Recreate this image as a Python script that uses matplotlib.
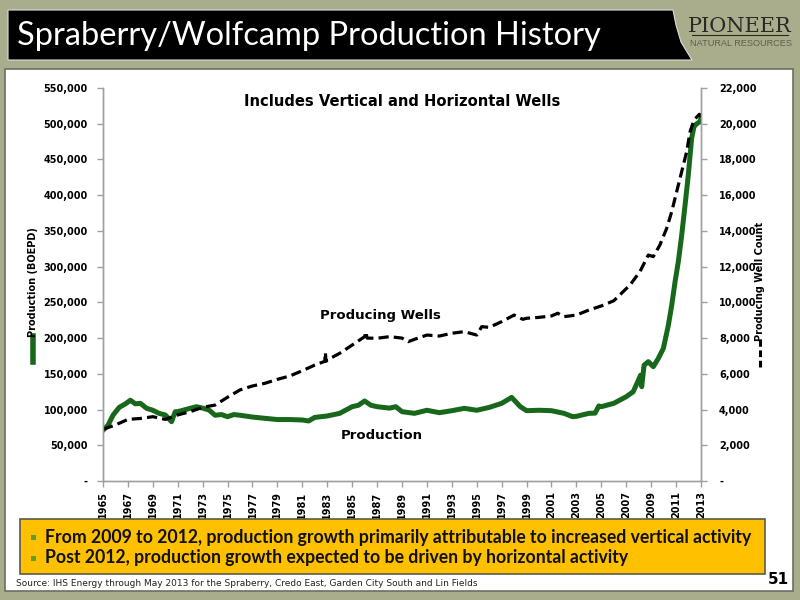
import matplotlib
matplotlib.use("Agg")
import matplotlib.pyplot as plt
from matplotlib.patches import Rectangle, Polygon
from matplotlib.lines import Line2D
from matplotlib.ticker import FuncFormatter

# ---------------- data ----------------
prod_years = [1965, 1965.4, 1965.8, 1966.3, 1966.8, 1967.2, 1967.6, 1968, 1968.5, 1969,
              1969.5, 1970, 1970.5, 1970.8, 1971, 1971.5, 1972, 1972.5, 1973, 1973.5,
              1974, 1974.5, 1975, 1975.5, 1976, 1977, 1978, 1979, 1980, 1981,
              1981.5, 1982, 1983, 1984, 1985, 1985.5, 1986, 1986.5, 1987, 1988,
              1988.5, 1989, 1990, 1991, 1992, 1993, 1994, 1995, 1996, 1997,
              1997.8, 1998.5, 1999, 2000, 2001, 2002, 2002.7, 2003, 2004, 2004.5,
              2004.8, 2005, 2006, 2007, 2007.56, 2008.0, 2008.15, 2008.24, 2008.43, 2008.77,
              2009.17, 2009.58, 2009.98, 2010.38, 2010.65, 2010.92, 2011.18, 2011.45, 2011.72, 2011.98,
              2012.25, 2012.44, 2012.66, 2012.92, 2013]
production = [71000, 78000, 92000, 103000, 108000, 113000, 108000, 108700, 101700, 99000,
              94700, 92400, 83000, 97000, 97000, 99400, 101700, 104000, 102000, 99400,
              92000, 93000, 90000, 93000, 92000, 89500, 87700, 86000, 86000, 85400,
              84000, 89000, 91000, 94700, 104000, 106000, 112000, 106000, 104000, 102000,
              104000, 97000, 94700, 99000, 95600, 98400, 101700, 99000, 103000, 108700,
              117000, 104000, 98400, 99000, 98400, 94700, 90000, 90500, 94700, 95000,
              105000, 104000, 108700, 118000, 125000, 142000, 148000, 132000, 162000, 167000,
              160000, 171700, 185700, 218000, 246000, 279000, 307000, 344000, 386000, 428000,
              480000, 496000, 500000, 503000, 508000]

well_years = [1965, 1966, 1967, 1968, 1969, 1970, 1971, 1972, 1973, 1974,
              1975, 1976, 1977, 1978, 1979, 1980, 1981, 1982, 1982.8, 1982.85,
              1982.9, 1983, 1984, 1985, 1986, 1986.1, 1986.2, 1987, 1988, 1989,
              1989.5, 1990, 1991, 1992, 1993, 1994, 1995, 1995.4, 1996, 1997,
              1998, 1998.7, 1999, 2000, 2001, 2001.5, 2002, 2003, 2004, 2005,
              2006, 2007.3, 2008.1, 2008.77, 2009.17, 2009.7, 2010.25, 2010.65, 2011.05, 2011.45,
              2011.85, 2012.12, 2012.44, 2012.87, 2013]
wells = [2900, 3135, 3450, 3500, 3600, 3450, 3700, 3880, 4125, 4250,
         4690, 5100, 5320, 5470, 5690, 5880, 6175, 6490, 6700, 7200,
         6700, 6770, 7150, 7610, 8080, 8350, 8000, 7990, 8080, 8000,
         7800, 7930, 8170, 8115, 8270, 8360, 8170, 8640, 8600, 8920,
         9290, 9050, 9110, 9160, 9240, 9390, 9200, 9290, 9570, 9800,
         10090, 10970, 11720, 12650, 12560, 13210, 14150, 15080, 16200, 17320,
         18430, 19550, 20210, 20530, 20400]

year_ticks = list(range(1965, 2014, 2))
prod_ticks = list(range(0, 550001, 50000))
well_ticks = list(range(0, 22001, 2000))

title = "Spraberry/Wolfcamp Production History"
subtitle = "Includes Vertical and Horizontal Wells"
bullets = ["From 2009 to 2012, production growth primarily attributable to increased vertical activity",
           "Post 2012, production growth expected to be driven by horizontal activity"]
source = "Source: IHS Energy through May 2013 for the Spraberry, Credo East, Garden City South and Lin Fields"

# ---------------- style ----------------
BG = "#A9AD8C"
GREEN = "#18681B"
W, H = 800, 600

def fx(x):
    return x / W

def fy(y):
    return 1 - y / H

fig = plt.figure(figsize=(8, 6), dpi=100, facecolor=BG)

# white panel
fig.add_artist(Rectangle((fx(5), fy(591)), fx(793) - fx(5), fy(69) - fy(591),
                         transform=fig.transFigure, facecolor="white",
                         edgecolor="#6E6E66", linewidth=1.2, zorder=0))

# title bar
bar_pts = [(8, 10), (673, 10), (676, 25), (681, 42), (692, 60), (8, 60)]
fig.add_artist(Polygon([(fx(x), fy(y)) for x, y in bar_pts], closed=True,
                       transform=fig.transFigure, facecolor="black",
                       edgecolor="#DDDDDD", linewidth=0.8, zorder=1))
fig.text(fx(17), fy(36), title, color="white", fontsize=23.5, family="Lato",
         ha="left", va="center", zorder=2)

# logo
fig.text(fx(740), fy(26), "PIONEER", color="#2A2A24", fontsize=15,
         family="DejaVu Serif", ha="center", va="center")
fig.add_artist(Line2D([fx(692), fx(788)], [fy(34.5), fy(34.5)],
                      transform=fig.transFigure, color="#2A2A24", linewidth=0.8))
fig.text(fx(741), fy(44), "NATURAL RESOURCES", color="#5E5E50", fontsize=6.6,
         family="Liberation Sans", ha="center", va="center")

# ---------------- chart ----------------
ax = fig.add_axes([fx(103), fy(481), fx(701) - fx(103), fy(88) - fy(481)])
ax2 = ax.twinx()

ax.plot(prod_years, production, color=GREEN, linewidth=3.6, solid_joinstyle="round", zorder=3)
ax2.plot(well_years, wells, color="black", linewidth=2.3, dashes=(3.2, 1.6), zorder=2)

ax.set_xlim(1965, 2013)
ax.set_ylim(0, 550000)
ax2.set_ylim(0, 22000)
ax.set_xticks(year_ticks)
ax.set_xticklabels([str(y) for y in year_ticks], rotation=90, fontsize=7,
                   fontweight="bold", family="DejaVu Sans")
ax.set_yticks(prod_ticks)
ax2.set_yticks(well_ticks)

fmt = FuncFormatter(lambda v, p: "-" if v == 0 else f"{int(v):,}")
ax.yaxis.set_major_formatter(fmt)
ax2.yaxis.set_major_formatter(fmt)

for a in (ax, ax2):
    for s in a.spines.values():
        s.set_color("#A0A0A0")
        s.set_linewidth(1.0)
    a.spines["top"].set_visible(False)
    a.tick_params(colors="#A0A0A0", length=4, width=1.0, labelcolor="black")
    for lab in a.get_yticklabels():
        lab.set_fontweight("bold")
        lab.set_fontsize(7)
        lab.set_family("DejaVu Sans")
ax.tick_params(axis="y", pad=7)
ax2.tick_params(axis="y", pad=9)
ax.set_facecolor("none")
ax2.set_facecolor("none")

ax.text(0.5, 0.965, subtitle, transform=ax.transAxes, ha="center", va="center",
        fontsize=10.6, fontweight="bold", family="DejaVu Sans")
ax.text(1987.3, 231000, "Producing Wells", ha="center", va="center",
        fontsize=9.5, fontweight="bold", family="DejaVu Sans")
ax.text(1987.4, 64000, "Production", ha="center", va="center",
        fontsize=9.5, fontweight="bold", family="DejaVu Sans")

# axis titles with line keys
fig.text(fx(33), fy(282), "Production (BOEPD)", rotation=90, ha="center", va="center",
         fontsize=7, fontweight="bold", family="DejaVu Sans")
fig.add_artist(Line2D([fx(33), fx(33)], [fy(362), fy(336)], transform=fig.transFigure,
                      color=GREEN, linewidth=4))
fig.text(fx(760), fy(281), "Producing Well Count", rotation=90, ha="center", va="center",
         fontsize=7, fontweight="bold", family="DejaVu Sans")
fig.add_artist(Line2D([fx(760), fx(760)], [fy(367), fy(338)], transform=fig.transFigure,
                      color="black", linewidth=2.2, dashes=(2.2, 1.2)))

# ---------------- bottom box ----------------
fig.add_artist(Rectangle((fx(20), fy(574)), fx(765) - fx(20), fy(519) - fy(574),
                         transform=fig.transFigure, facecolor="#FFC000",
                         edgecolor="#5A5A4A", linewidth=1.2, zorder=1))
for i, b in enumerate(bullets):
    yy = 537 + i * 21
    fig.add_artist(Rectangle((fx(31), fy(yy + 2.5)), fx(5) - fx(0), fy(0) - fy(5),
                             transform=fig.transFigure, facecolor="#5E9E2E",
                             edgecolor="none", zorder=2))
    fig.text(fx(45), fy(yy), b, fontsize=12.7, fontweight="bold", family="Lato",
             ha="left", va="center", color="#111111", zorder=3)

fig.text(fx(16), fy(584), source, fontsize=6.5, family="DejaVu Sans",
         ha="left", va="center", color="#222222")
fig.text(fx(789), fy(579), "51", fontsize=11, fontweight="bold", family="DejaVu Sans",
         ha="right", va="center", color="black")

fig.savefig("out.png", dpi=100, facecolor=BG)
